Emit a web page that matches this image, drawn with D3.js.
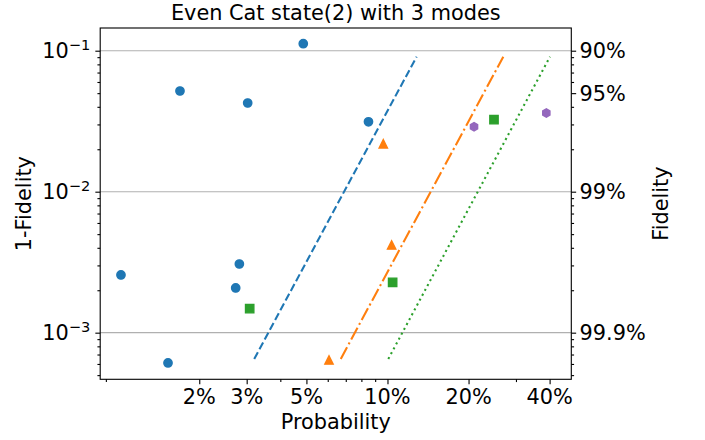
<!DOCTYPE html>
<html><head><meta charset="utf-8">
<script src="https://cdn.jsdelivr.net/npm/d3@7"></script>
<style>
body{margin:0;background:#fff}
svg{display:block;background:#fff}
text{font-family:"DejaVu Sans",sans-serif;fill:#000}
</style>
</head><body>
<svg id="chart" width="705" height="440"></svg>
<script>
// ---------- data ----------
const titleText = "Even Cat state(2) with 3 modes";
const xLabelText = "Probability";
const yLabelText = "1-Fidelity";
const y2LabelText = "Fidelity";

const xTickValues = [0.02, 0.03, 0.05, 0.1, 0.2, 0.4];
const xTickLabels = ["2%", "3%", "5%", "10%", "20%", "40%"];
const yTickValues = [1e-3, 1e-2, 1e-1];
const yTickExponents = ["\u22123", "\u22122", "\u22121"];
const y2TickValues = [0.1, 0.05, 0.01, 0.001];
const y2TickLabels = ["90%", "95%", "99%", "99.9%"];

// blue circles
const circleX = [0.01024, 0.01531, 0.01696, 0.02731, 0.02818, 0.03026, 0.04867, 0.0850];
const circleY = [0.002566, 0.000610, 0.05178, 0.002075, 0.003070, 0.04257, 0.1121, 0.03131];
// orange triangles
const triangleX = [0.06065, 0.09647, 0.1036];
const triangleY = [0.000640, 0.02186, 0.004188];
// green squares
const squareX = [0.03078, 0.1045, 0.2486];
const squareY = [0.001480, 0.002277, 0.03239];
// purple hexagons
const hexX = [0.2096, 0.3889];
const hexY = [0.02891, 0.03615];

// reference lines
const blueLineX = [0.0320, 0.1283];
const blueLineY = [0.000651, 0.0907];
const orangeLineX = [0.06706, 0.2692];
const orangeLineY = [0.000651, 0.0907];
const greenLineX = [0.1007, 0.4013];
const greenLineY = [0.000651, 0.0907];

// ---------- layout ----------
const W = 705, H = 440;
const plot = {left: 100.2, right: 571.3, top: 28, bottom: 379.3};
const fs = 20.83;
const C = {blue: "#1f77b4", orange: "#ff7f0e", green: "#2ca02c", purple: "#9467bd"};

const svg = d3.select("#chart");
svg.append("rect").attr("width", W).attr("height", H).attr("fill", "#fff");

const x = d3.scaleLog().domain([0.008574, 0.4815]).range([plot.left, plot.right]);
const y = d3.scaleLog().domain([4.67e-4, 0.1449]).range([plot.bottom, plot.top]);

const majLen = 4.86, minLen = 2.78, tickW = 1.11;

// grid
svg.append("g").selectAll("line").data(yTickValues).join("line")
  .attr("x1", plot.left).attr("x2", plot.right)
  .attr("y1", d => y(d)).attr("y2", d => y(d))
  .attr("stroke", "#b0b0b0").attr("stroke-width", 1.11);

// reference lines
const lineGen = d3.line().x(d => x(d[0])).y(d => y(d[1]));
function refLine(xs, ys, color, dash) {
  svg.append("path").datum(xs.map((v, i) => [v, ys[i]]))
    .attr("d", lineGen).attr("fill", "none").attr("stroke", color)
    .attr("stroke-width", 2.08).attr("stroke-dasharray", dash)
    .attr("stroke-linecap", "butt");
}

// markers
const ms = 4.17, mew = 1.39;
function markers(xs, ys, color, pathFn) {
  svg.append("g").selectAll("path").data(xs.map((v, i) => [v, ys[i]])).join("path")
    .attr("transform", d => `translate(${x(d[0])},${y(d[1])})`)
    .attr("d", pathFn).attr("fill", color).attr("stroke", color).attr("stroke-width", mew)
    .attr("stroke-linejoin", "miter");
}
const circlePath = () => { const p = d3.path(); p.arc(0, 0, ms, 0, 2 * Math.PI); return p.toString(); };
const triPath = () => `M0,${-ms}L${-ms},${ms}L${ms},${ms}Z`;
const sqPath = () => `M${-ms},${-ms}H${ms}V${ms}H${-ms}Z`;
const hexPath = () => {
  const pts = d3.range(6).map(i => { const a = Math.PI / 2 + i * Math.PI / 3; return [ms * Math.cos(a), -ms * Math.sin(a)]; });
  return "M" + pts.map(p => p.join(",")).join("L") + "Z";
};

markers(circleX, circleY, C.blue, circlePath);
markers(triangleX, triangleY, C.orange, triPath);
markers(squareX, squareY, C.green, sqPath);
markers(hexX, hexY, C.purple, hexPath);

refLine(blueLineX, blueLineY, C.blue, "7.71,3.33");
refLine(orangeLineX, orangeLineY, C.orange, "13.33,3.33,2.08,3.33");
refLine(greenLineX, greenLineY, C.green, "2.08,3.44");

// minor tick values
const isMajorLike = (v, majors) => majors.some(m => Math.abs(m - v) / m < 1e-6);
const isDecade = v => Math.abs(Math.log10(v) - Math.round(Math.log10(v))) < 1e-6;
const xMinor = x.ticks().filter(v => !isDecade(v) && !isMajorLike(v, xTickValues));
const yMinor = y.ticks().filter(v => !isDecade(v));

function styleAxis(g) {
  g.select(".domain").remove();
  g.selectAll("line").attr("stroke", "#000").attr("stroke-width", tickW);
  g.selectAll("text").remove();
}

// bottom axis
svg.append("g").attr("transform", `translate(0,${plot.bottom})`)
  .call(d3.axisBottom(x).tickValues(xTickValues).tickSize(majLen).tickFormat("")).call(styleAxis);
svg.append("g").attr("transform", `translate(0,${plot.bottom})`)
  .call(d3.axisBottom(x).tickValues(xMinor).tickSize(minLen).tickFormat("")).call(styleAxis);
// left axis
svg.append("g").attr("transform", `translate(${plot.left},0)`)
  .call(d3.axisLeft(y).tickValues(yTickValues).tickSize(majLen).tickFormat("")).call(styleAxis);
svg.append("g").attr("transform", `translate(${plot.left},0)`)
  .call(d3.axisLeft(y).tickValues(yMinor).tickSize(minLen).tickFormat("")).call(styleAxis);
// right axis
svg.append("g").attr("transform", `translate(${plot.right},0)`)
  .call(d3.axisRight(y).tickValues(y2TickValues).tickSize(majLen).tickFormat("")).call(styleAxis);
svg.append("g").attr("transform", `translate(${plot.right},0)`)
  .call(d3.axisRight(y).tickValues(yMinor.filter(v => !isMajorLike(v, y2TickValues))).tickSize(minLen).tickFormat("")).call(styleAxis);

// spines
svg.append("rect").attr("x", plot.left).attr("y", plot.top)
  .attr("width", plot.right - plot.left).attr("height", plot.bottom - plot.top)
  .attr("fill", "none").attr("stroke", "#000").attr("stroke-width", 1.11);

// tick labels
svg.append("g").selectAll("text").data(xTickValues).join("text")
  .attr("x", d => x(d)).attr("y", 404.3).attr("text-anchor", "middle")
  .attr("font-size", fs).text((d, i) => xTickLabels[i]);

const yl = svg.append("g").selectAll("text").data(yTickValues).join("text")
  .attr("x", plot.left - 9.9).attr("y", d => y(d) + 7.6).attr("text-anchor", "end")
  .attr("font-size", fs);
yl.append("tspan").text("10");
yl.append("tspan").attr("font-size", fs * 0.7).attr("dy", -8.3).text((d, i) => yTickExponents[i]);

svg.append("g").selectAll("text").data(y2TickValues).join("text")
  .attr("x", plot.right + 8.3).attr("y", d => y(d) + 7.6).attr("text-anchor", "start")
  .attr("font-size", fs).text((d, i) => y2TickLabels[i]);

// titles
const cx = (plot.left + plot.right) / 2, cy = (plot.top + plot.bottom) / 2;
svg.append("text").attr("x", cx).attr("y", 19.7).attr("text-anchor", "middle")
  .attr("font-size", fs).text(titleText);
svg.append("text").attr("x", cx).attr("y", 429.3).attr("text-anchor", "middle")
  .attr("font-size", fs).text(xLabelText);
svg.append("text").attr("transform", `translate(31,${cy}) rotate(-90)`).attr("text-anchor", "middle")
  .attr("font-size", fs).text(yLabelText);
svg.append("text").attr("transform", `translate(667.5,${cy}) rotate(-90)`).attr("text-anchor", "middle")
  .attr("font-size", fs).text(y2LabelText);
</script>
</body></html>
